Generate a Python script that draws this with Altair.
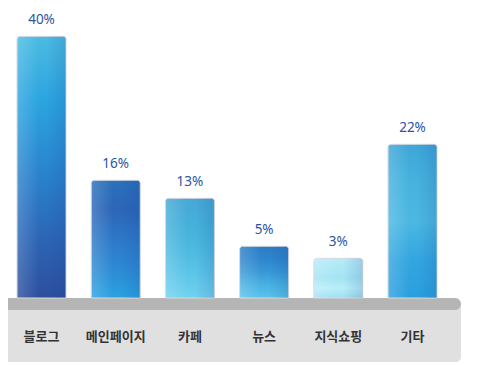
import altair as alt
import pandas as pd

categories = ["블로그", "메인페이지", "카페", "뉴스", "지식쇼핑", "기타"]
shares = [40, 16, 13, 5, 3, 22]
share_labels = ["40%", "16%", "13%", "5%", "3%", "22%"]

df = pd.DataFrame({"cat": categories, "share": shares, "label": share_labels})

# vertical gradient stops per bar (style only)
bar_stops = {
    "블로그": ["#4cbbe2", "#2ba4df", "#2a86cf", "#2c68b8", "#2c4f9d"],
    "메인페이지": ["#2a70ba", "#2c66b8", "#2d78c8", "#2d8ad4", "#2aa2e0"],
    "카페": ["#47a8d6", "#45b0da", "#4cb9df", "#5cc5e8", "#70d2ee"],
    "뉴스": ["#2b7cc6", "#2e86cd", "#3898d8", "#48b2e2", "#5ac2ea"],
    "지식쇼핑": ["#b6ecf7", "#ade8f5", "#a4e4f3", "#b9eef8", "#9fe0f1"],
    "기타": ["#3da6d8", "#46b2dd", "#4bb8e2", "#33a6e0", "#2a9fde"],
}

x_scale = alt.Scale(domain=categories, range=[-3.6, 441.6], paddingInner=0.34, paddingOuter=0.17)
y_scale = alt.Scale(domain=[-3.62, 44.72], range=[290, 0], zero=False, nice=False)

base = alt.Chart(df)
one = alt.Chart(pd.DataFrame({"k": [0]}))

box = one.mark_rect(color="#e0e0e0", cornerRadius=5).encode(
    x=alt.value(-6), x2=alt.value(453), y=alt.value(292), y2=alt.value(354)
)
strip = one.mark_rect(color="#b5b5b5", cornerRadius=6).encode(
    x=alt.value(-8), x2=alt.value(453), y=alt.value(290), y2=alt.value(302)
)

layers = [box, strip]
for c in categories:
    stops = bar_stops[c]
    n = len(stops)
    grad = alt.Gradient(
        gradient="linear",
        stops=[alt.GradientStop(color=s, offset=i / (n - 1)) for i, s in enumerate(stops)],
        x1=0, x2=0, y1=0, y2=1,
    )
    hgrad = alt.Gradient(
        gradient="linear",
        stops=[
            alt.GradientStop(color="rgba(255,255,255,0.18)", offset=0),
            alt.GradientStop(color="rgba(255,255,255,0.0)", offset=0.45),
            alt.GradientStop(color="rgba(20,60,150,0.0)", offset=0.6),
            alt.GradientStop(color="rgba(20,60,150,0.16)", offset=1),
        ],
        x1=0, x2=1, y1=0, y2=0,
    )
    sub = base.transform_filter(alt.datum.cat == c)
    layers.append(
        sub.mark_bar(
            color=grad, stroke="#d6d9de", strokeWidth=1,
            cornerRadiusTopLeft=3, cornerRadiusTopRight=3,
        ).encode(
            x=alt.X("cat:N", scale=x_scale, axis=None, sort=categories),
            y=alt.Y("share:Q", scale=y_scale, axis=None),
            y2=alt.datum(-3.62),
        )
    )
    layers.append(
        sub.mark_bar(
            color=hgrad, cornerRadiusTopLeft=3, cornerRadiusTopRight=3,
        ).encode(
            x=alt.X("cat:N", scale=x_scale, axis=None, sort=categories),
            y=alt.Y("share:Q", scale=y_scale, axis=None),
            y2=alt.datum(-3.62),
        )
    )

pct = base.mark_text(
    font="Noto Sans", fontSize=13.5, color="#2b54a4", baseline="middle", dy=-16
).encode(
    x=alt.X("cat:N", scale=x_scale, axis=None, sort=categories),
    y=alt.Y("share:Q", scale=y_scale, axis=None),
    text="label:N",
)

names = base.mark_text(
    font="Noto Sans CJK KR", fontSize=13, fontWeight="bold", color="#333333", baseline="middle"
).encode(
    x=alt.X("cat:N", scale=x_scale, axis=None, sort=categories),
    y=alt.value(329),
    text="cat:N",
)

layers += [pct, names]

chart = alt.layer(*layers).properties(
    width=474, height=355, autosize=alt.AutoSizeParams(type="none"), padding=0, background="white"
).configure_view(stroke=None)

chart.save("out.html", embed_options={"renderer": "svg", "actions": False})
